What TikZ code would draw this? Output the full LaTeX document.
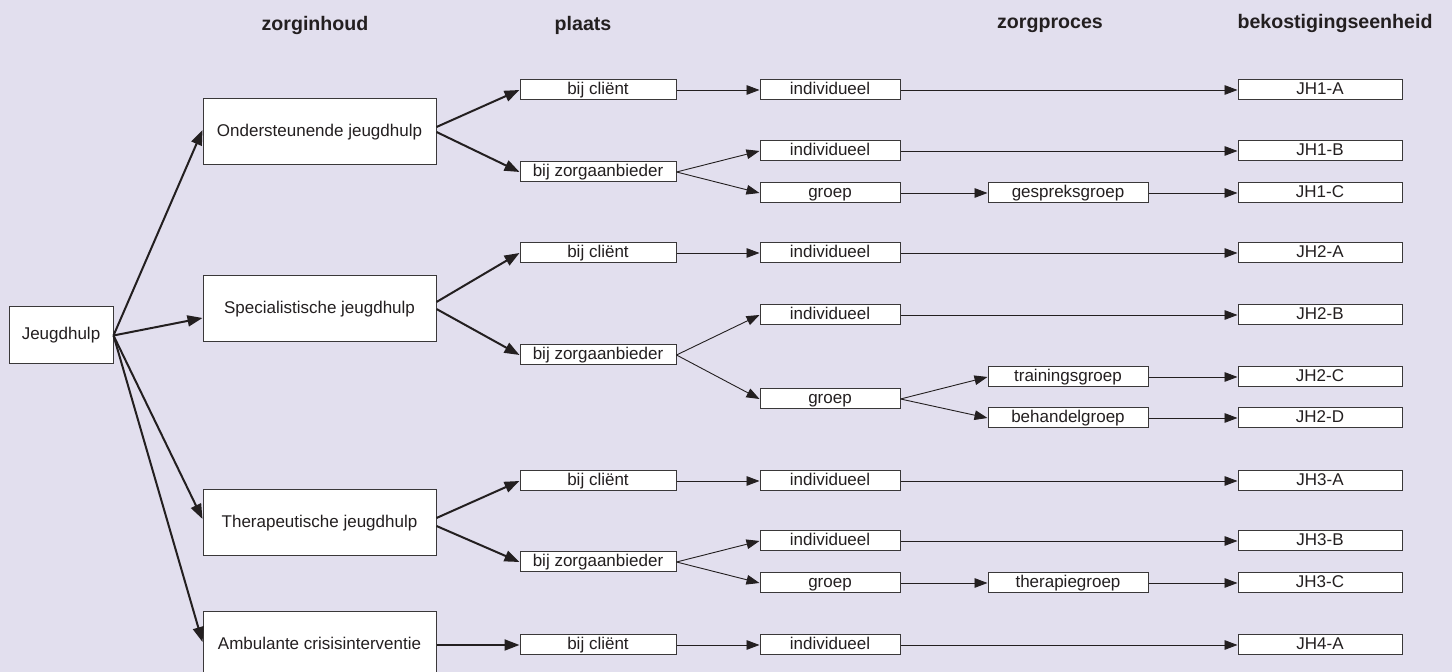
\documentclass[tikz,border=0pt]{standalone}
\usepackage{fontspec}
\setmainfont{Liberation Sans}
\usetikzlibrary{arrows.meta,positioning}
\definecolor{lavbg}{HTML}{E2DFEE}
\definecolor{inkt}{HTML}{231F20}
\definecolor{rand}{HTML}{3A3839}

\begin{document}
\begin{tikzpicture}[x=0.5pt,y=-0.5pt,
	every node/.style={text=inkt, font=\fontsize{8.5}{10}\selectfont},
	kop/.style={font=\fontsize{9.8}{12}\selectfont\bfseries},
	box/.style={draw=rand, fill=white, line width=0.5pt, inner sep=0pt, text height=6.2pt, text depth=1.8pt},
	hoofd/.style={box, minimum width=52pt, minimum height=28.5pt},
	inhoud/.style={box, minimum width=116.5pt, minimum height=33pt},
	plaatsbox/.style={box, minimum width=78pt, minimum height=10pt},
	procesbox/.style={box, minimum width=70pt, minimum height=10pt},
	groepbox/.style={box, minimum width=80pt, minimum height=10pt},
	eenheid/.style={box, minimum width=82pt, minimum height=10pt},
	dik/.style={draw=inkt, line width=1pt, -{Triangle[length=7.5pt,width=5.5pt]}},
	dun/.style={draw=inkt, line width=0.45pt, -{Triangle[length=6.5pt,width=4.8pt]}}]
	%% achtergrond en vaste afmetingen
	\fill[lavbg] (0,0) rectangle (1452,672);
	\useasboundingbox (0,0) rectangle (1452,672);
	
	%% kolomkoppen
	\node[kop] (kinhoud) at (315,25) {zorginhoud};
	\node[kop] (kplaats) at (583,25) {plaats};
	\node[kop] (kproces) at (1050,25) {zorgproces};
	\node[kop] (keenheid) at (1335,23) {bekostigingseenheid};
	
	%% zorginhoud
	\node[hoofd] (jh) at (61,335.5) {Jeugdhulp};
	\node[inhoud] (ond) at (319.5,132) {Ondersteunende jeugdhulp};
	\node[inhoud] (spec) at (319.5,309) {Specialistische jeugdhulp};
	\node[inhoud] (ther) at (319.5,523) {Therapeutische jeugdhulp};
	\node[inhoud] (amb) at (319.5,645) {Ambulante crisisinterventie};
	
	%% plaats
	\node[plaatsbox] (p1a) at (598,90) {bij cliënt};
	\node[plaatsbox] (p1b) at (598,172) {bij zorgaanbieder};
	\node[plaatsbox] (p2a) at (598,253) {bij cliënt};
	\node[plaatsbox] (p2b) at (598,355) {bij zorgaanbieder};
	\node[plaatsbox] (p3a) at (598,481) {bij cliënt};
	\node[plaatsbox] (p3b) at (598,562) {bij zorgaanbieder};
	\node[plaatsbox] (p4a) at (598,645) {bij cliënt};
	
	%% zorgproces
	\node[procesbox] (i1a) at (830,90) {individueel};
	\node[procesbox] (i1b) at (830,151) {individueel};
	\node[procesbox] (g1) at (830,193) {groep};
	\node[procesbox] (i2a) at (830,253) {individueel};
	\node[procesbox] (i2b) at (830,315) {individueel};
	\node[procesbox] (g2) at (830,399) {groep};
	\node[procesbox] (i3a) at (830,481) {individueel};
	\node[procesbox] (i3b) at (830,541) {individueel};
	\node[procesbox] (g3) at (830,583) {groep};
	\node[procesbox] (i4a) at (830,645) {individueel};
	
	\node[groepbox] (gesp) at (1068,193) {gespreksgroep};
	\node[groepbox] (train) at (1068,377) {trainingsgroep};
	\node[groepbox] (behand) at (1068,418) {behandelgroep};
	\node[groepbox] (therg) at (1068,583) {therapiegroep};
	
	%% bekostigingseenheid
	\node[eenheid] (jh1a) at (1320,90) {JH1-A};
	\node[eenheid] (jh1b) at (1320,151) {JH1-B};
	\node[eenheid] (jh1c) at (1320,193) {JH1-C};
	\node[eenheid] (jh2a) at (1320,253) {JH2-A};
	\node[eenheid] (jh2b) at (1320,315) {JH2-B};
	\node[eenheid] (jh2c) at (1320,377) {JH2-C};
	\node[eenheid] (jh2d) at (1320,418) {JH2-D};
	\node[eenheid] (jh3a) at (1320,481) {JH3-A};
	\node[eenheid] (jh3b) at (1320,541) {JH3-B};
	\node[eenheid] (jh3c) at (1320,583) {JH3-C};
	\node[eenheid] (jh4a) at (1320,645) {JH4-A};
	
	%% dikke pijlen: jeugdhulp -> zorginhoud -> plaats
	\draw[dik] (jh.east) -- ([yshift=1pt]ond.west);
	\draw[dik] (jh.east) -- ([yshift=-4.5pt]spec.west);
	\draw[dik] (jh.east) -- ([yshift=2pt]ther.west);
	\draw[dik] (jh.east) -- ([yshift=1.5pt]amb.west);
	
	\draw[dik] ([yshift=2.5pt]ond.east) -- (p1a.west);
	\draw[dik] (ond.east) -- (p1b.west);
	\draw[dik] ([yshift=3.5pt]spec.east) -- (p2a.west);
	\draw[dik] (spec.east) -- (p2b.west);
	\draw[dik] ([yshift=2.5pt]ther.east) -- (p3a.west);
	\draw[dik] ([yshift=-1.5pt]ther.east) -- (p3b.west);
	\draw[dik] (amb.east) -- (p4a.west);
	
	%% dunne pijlen: plaats -> zorgproces
	\draw[dun] (p1a.east) -- (i1a.west);
	\draw[dun] (p1b.east) -- (i1b.west);
	\draw[dun] (p1b.east) -- (g1.west);
	\draw[dun] (p2a.east) -- (i2a.west);
	\draw[dun] (p2b.east) -- (i2b.west);
	\draw[dun] (p2b.east) -- (g2.west);
	\draw[dun] (p3a.east) -- (i3a.west);
	\draw[dun] (p3b.east) -- (i3b.west);
	\draw[dun] (p3b.east) -- (g3.west);
	\draw[dun] (p4a.east) -- (i4a.west);
	
	\draw[dun] (g1.east) -- (gesp.west);
	\draw[dun] (g2.east) -- (train.west);
	\draw[dun] (g2.east) -- (behand.west);
	\draw[dun] (g3.east) -- (therg.west);
	
	%% naar bekostigingseenheid
	\draw[dun] (i1a.east) -- (jh1a.west);
	\draw[dun] (i1b.east) -- (jh1b.west);
	\draw[dun] (gesp.east) -- (jh1c.west);
	\draw[dun] (i2a.east) -- (jh2a.west);
	\draw[dun] (i2b.east) -- (jh2b.west);
	\draw[dun] (train.east) -- (jh2c.west);
	\draw[dun] (behand.east) -- (jh2d.west);
	\draw[dun] (i3a.east) -- (jh3a.west);
	\draw[dun] (i3b.east) -- (jh3b.west);
	\draw[dun] (therg.east) -- (jh3c.west);
	\draw[dun] (i4a.east) -- (jh4a.west);
\end{tikzpicture}
\end{document}
